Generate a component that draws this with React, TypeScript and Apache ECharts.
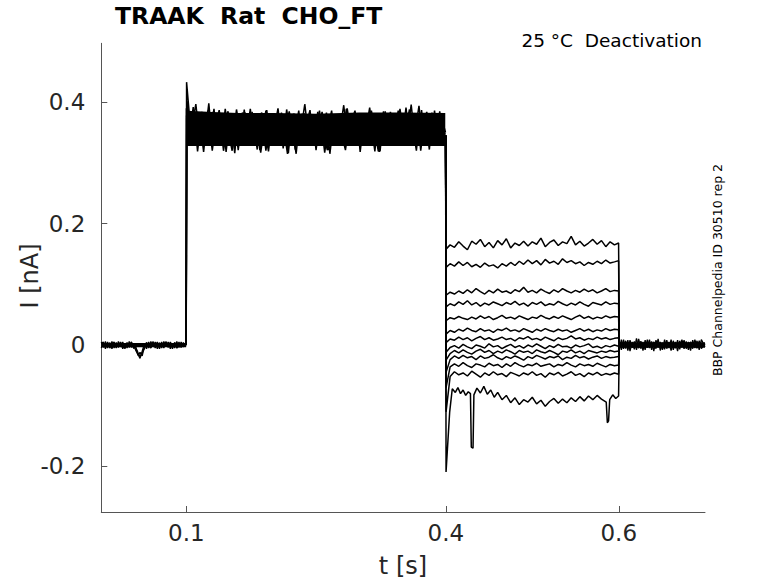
import React, { useEffect, useRef } from "react";
import * as echarts from "echarts";

// ---- axis ticks ----
const xTickValues = [0.1, 0.4, 0.6];
const yTickValues = [-0.2, 0, 0.2, 0.4];

// ---- texts ----
const titleText = "TRAAK  Rat  CHO_FT";
const subText = "25 °C  Deactivation";
const sideText = "BBP Channelpedia ID 30510 rep 2";
const xName = "t [s]";
const yName = "I [nA]";

// ---- dense cores of the overlapping sweeps (top value, floor value) ----
const tBaseEnv = [0.0017, 0.04, 0.0998];
const baseEnvTop = [0.0035, 0.0035, 0.0035];
const baseEnvFloor = -0.0035;
const tBandEnv = [0.1006, 0.13, 0.16, 0.2, 0.25, 0.3, 0.35, 0.3994];
const bandEnvTop = [0.386, 0.384, 0.382, 0.382, 0.381, 0.383, 0.383, 0.382];
const bandEnvFloor = 0.328;
const tTailEnv = [0.6008, 0.65, 0.6997];
const tailEnvTop = [0.0045, 0.0045, 0.0045];
const tailEnvFloor = -0.0045;

// ---- holding period (0 - 0.1 s) ----
const tBase = [
  0.0017, 0.004, 0.0065, 0.009, 0.0115, 0.014, 0.0165, 0.019, 0.0215, 0.024,
  0.0265, 0.029, 0.0315, 0.034, 0.0365, 0.039, 0.0415, 0.044, 0.0465, 0.049,
  0.0515, 0.054, 0.0565, 0.059, 0.0615, 0.064, 0.0665, 0.069, 0.0715, 0.074,
  0.0765, 0.079, 0.0815, 0.084, 0.0865, 0.089, 0.0915, 0.094, 0.0965, 0.0998,
];
const baseA = [
  0.005, -0.004, 0.006, -0.005, 0.004, -0.006, 0.003, -0.005, 0.006, -0.003,
  0.005, -0.006, 0.004, -0.002, 0.005, -0.005, -0.004, -0.012, -0.019, -0.013,
  -0.006, 0.004, -0.005, 0.006, -0.003, 0.005, -0.006, 0.004, -0.005, 0.006,
  -0.002, 0.005, -0.006, 0.003, -0.005, 0.006, -0.004, 0.005, -0.003, 0.002,
];
const baseB = [
  -0.005, 0.004, -0.006, 0.005, -0.003, 0.006, -0.005, 0.004, -0.004, 0.005,
  -0.006, 0.003, -0.005, 0.006, -0.004, 0.002, -0.009, -0.015, -0.022, -0.01,
  0.002, -0.006, 0.005, -0.004, 0.006, -0.005, 0.003, -0.006, 0.005, -0.003,
  0.006, -0.004, 0.003, -0.006, 0.004, -0.005, 0.005, -0.003, 0.004, -0.002,
];
const baseC = [
  0.002, 0.005, -0.004, 0.003, -0.005, 0.001, 0.005, -0.003, 0.0, 0.004,
  -0.005, 0.002, 0.003, -0.004, 0.005, -0.005, -0.003, -0.017, -0.012, -0.018,
  -0.002, 0.004, -0.001, -0.005, 0.003, 0.0, 0.005, -0.003, 0.002, -0.005,
  0.004, -0.002, 0.005, -0.001, 0.004, -0.005, 0.001, -0.004, 0.003, 0.0,
];

// ---- activation step (0.1 - 0.4 s) ----
const tBandA = [
  0.0998, 0.1003,
  0.104, 0.108, 0.112, 0.116, 0.12, 0.124, 0.128, 0.132, 0.136, 0.14,
  0.144, 0.148, 0.152, 0.156, 0.16, 0.164, 0.168, 0.172, 0.176, 0.18,
  0.184, 0.188, 0.192, 0.196, 0.2, 0.204, 0.208, 0.212, 0.216, 0.22,
  0.224, 0.228, 0.232, 0.236, 0.24, 0.244, 0.248, 0.252, 0.256, 0.26,
  0.264, 0.268, 0.272, 0.276, 0.28, 0.284, 0.288, 0.292, 0.296, 0.3,
  0.304, 0.308, 0.312, 0.316, 0.32, 0.324, 0.328, 0.332, 0.336, 0.34,
  0.344, 0.348, 0.352, 0.356, 0.36, 0.364, 0.368, 0.372, 0.376, 0.38,
  0.384, 0.388, 0.392, 0.396,
  0.3997,
];
const tBandB = [
  0.0998, 0.1005,
  0.102, 0.106, 0.11, 0.114, 0.118, 0.122, 0.126, 0.13, 0.134, 0.138,
  0.142, 0.146, 0.15, 0.154, 0.158, 0.162, 0.166, 0.17, 0.174, 0.178,
  0.182, 0.186, 0.19, 0.194, 0.198, 0.202, 0.206, 0.21, 0.214, 0.218,
  0.222, 0.226, 0.23, 0.234, 0.238, 0.242, 0.246, 0.25, 0.254, 0.258,
  0.262, 0.266, 0.27, 0.274, 0.278, 0.282, 0.286, 0.29, 0.294, 0.298,
  0.302, 0.306, 0.31, 0.314, 0.318, 0.322, 0.326, 0.33, 0.334, 0.338,
  0.342, 0.346, 0.35, 0.354, 0.358, 0.362, 0.366, 0.37, 0.374, 0.378,
  0.382, 0.386, 0.39, 0.394, 0.398,
];
const tBandC = [
  0.0998, 0.1008,
  0.105, 0.109, 0.113, 0.117, 0.121, 0.125, 0.129, 0.133, 0.137, 0.141,
  0.145, 0.149, 0.153, 0.157, 0.161, 0.165, 0.169, 0.173, 0.177, 0.181,
  0.185, 0.189, 0.193, 0.197, 0.201, 0.205, 0.209, 0.213, 0.217, 0.221,
  0.225, 0.229, 0.233, 0.237, 0.241, 0.245, 0.249, 0.253, 0.257, 0.261,
  0.265, 0.269, 0.273, 0.277, 0.281, 0.285, 0.289, 0.293, 0.297, 0.301,
  0.305, 0.309, 0.313, 0.317, 0.321, 0.325, 0.329, 0.333, 0.337, 0.341,
  0.345, 0.349, 0.353, 0.357, 0.361, 0.365, 0.369, 0.373, 0.377, 0.381,
  0.385, 0.389, 0.393, 0.397,
  0.3996,
];
const tBandD = [
  0.0998, 0.1001,
  0.103, 0.107, 0.111, 0.115, 0.119, 0.123, 0.127, 0.131, 0.135, 0.139,
  0.143, 0.147, 0.151, 0.155, 0.159, 0.163, 0.167, 0.171, 0.175, 0.179,
  0.183, 0.187, 0.191, 0.195, 0.199, 0.203, 0.207, 0.211, 0.215, 0.219,
  0.223, 0.227, 0.231, 0.235, 0.239, 0.243, 0.247, 0.251, 0.255, 0.259,
  0.263, 0.267, 0.271, 0.275, 0.279, 0.283, 0.287, 0.291, 0.295, 0.299,
  0.303, 0.307, 0.311, 0.315, 0.319, 0.323, 0.327, 0.331, 0.335, 0.339,
  0.343, 0.347, 0.351, 0.355, 0.359, 0.363, 0.367, 0.371, 0.375, 0.379,
  0.383, 0.387, 0.391, 0.395,
  0.3994,
];
const bandA1 = [
  0.0, 0.433, 0.372, 0.341, 0.384, 0.352, 0.379, 0.338, 0.368, 0.345,
  0.381, 0.334, 0.362, 0.376, 0.34, 0.371, 0.321, 0.366, 0.383, 0.347,
  0.36, 0.335, 0.374, 0.351, 0.386, 0.338, 0.364, 0.343, 0.378, 0.324,
  0.369, 0.349, 0.381, 0.337, 0.358, 0.373, 0.333, 0.366, 0.345, 0.384,
  0.34, 0.362, 0.321, 0.371, 0.352, 0.379, 0.336, 0.365, 0.347, 0.382,
  0.334, 0.369, 0.342, 0.376, 0.355, 0.331, 0.367, 0.349, 0.385, 0.339,
  0.362, 0.344, 0.378, 0.333, 0.371, 0.353, 0.396, 0.341, 0.366, 0.336,
  0.375, 0.348, 0.383, 0.339, 0.368, 0.352, 0.344,
];
const bandA2 = [
  0.0, 0.378, 0.349, 0.392, 0.336, 0.365, 0.318, 0.372, 0.354, 0.389,
  0.331, 0.357, 0.343, 0.385, 0.362, 0.316, 0.377, 0.346, 0.368, 0.33,
  0.384, 0.358, 0.339, 0.37, 0.32, 0.361, 0.38, 0.344, 0.373, 0.335,
  0.388, 0.35, 0.328, 0.367, 0.342, 0.382, 0.356, 0.33, 0.374, 0.348,
  0.365, 0.317, 0.359, 0.386, 0.337, 0.37, 0.345, 0.321, 0.363, 0.381,
  0.339, 0.372, 0.332, 0.357, 0.391, 0.346, 0.368, 0.319, 0.375, 0.342,
  0.384, 0.335, 0.36, 0.329, 0.377, 0.35, 0.337, 0.373, 0.344, 0.387,
  0.331, 0.363, 0.34, 0.379, 0.334, 0.37, 0.35,
];
const bandB1 = [
  0.0, 0.395, 0.361, 0.333, 0.377, 0.346, 0.384, 0.339, 0.37, 0.32,
  0.364, 0.387, 0.342, 0.373, 0.335, 0.358, 0.38, 0.332, 0.367, 0.349,
  0.389, 0.338, 0.371, 0.317, 0.356, 0.379, 0.344, 0.366, 0.331, 0.383,
  0.352, 0.337, 0.374, 0.322, 0.363, 0.381, 0.345, 0.369, 0.334, 0.357,
  0.386, 0.34, 0.372, 0.315, 0.364, 0.348, 0.378, 0.336, 0.39, 0.353,
  0.33, 0.368, 0.343, 0.382, 0.338, 0.361, 0.319, 0.375, 0.35, 0.385,
  0.333, 0.366, 0.342, 0.379, 0.33, 0.359, 0.388, 0.346, 0.371, 0.337,
  0.364, 0.384, 0.341, 0.376, 0.347, 0.369, 0.338,
];
const bandB2 = [
  0.0, 0.366, 0.385, 0.344, 0.358, 0.331, 0.371, 0.35, 0.398, 0.337,
  0.362, 0.347, 0.378, 0.318, 0.369, 0.341, 0.388, 0.355, 0.334, 0.375,
  0.343, 0.363, 0.322, 0.381, 0.348, 0.372, 0.336, 0.359, 0.39, 0.34,
  0.366, 0.316, 0.377, 0.353, 0.386, 0.332, 0.361, 0.345, 0.374, 0.321,
  0.367, 0.351, 0.383, 0.339, 0.376, 0.332, 0.357, 0.395, 0.344, 0.365,
  0.33, 0.379, 0.347, 0.368, 0.334, 0.386, 0.352, 0.319, 0.373, 0.34,
  0.362, 0.38, 0.335, 0.369, 0.345, 0.391, 0.338, 0.358, 0.32, 0.375,
  0.349, 0.366, 0.331, 0.381, 0.343, 0.371, 0.346,
];
const bandC1 = [
  0.0, 0.402, 0.356, 0.381, 0.319, 0.368, 0.343, 0.386, 0.334, 0.359,
  0.377, 0.339, 0.389, 0.348, 0.32, 0.372, 0.355, 0.383, 0.331, 0.366,
  0.345, 0.379, 0.321, 0.362, 0.387, 0.341, 0.369, 0.333, 0.376, 0.352,
  0.315, 0.365, 0.381, 0.338, 0.359, 0.397, 0.347, 0.372, 0.329, 0.363,
  0.384, 0.336, 0.357, 0.375, 0.332, 0.368, 0.344, 0.389, 0.337, 0.361,
  0.378, 0.318, 0.366, 0.349, 0.383, 0.335, 0.371, 0.343, 0.358, 0.329,
  0.376, 0.351, 0.386, 0.338, 0.364, 0.331, 0.373, 0.356, 0.394, 0.342,
  0.367, 0.322, 0.379, 0.346, 0.385, 0.337, 0.345,
];
const bandD1 = [
  0.0, 0.39, 0.338, 0.364, 0.397, 0.345, 0.375, 0.332, 0.361, 0.384,
  0.341, 0.37, 0.32, 0.357, 0.38, 0.336, 0.367, 0.346, 0.388, 0.33,
  0.363, 0.374, 0.339, 0.383, 0.353, 0.319, 0.368, 0.344, 0.378, 0.334,
  0.36, 0.385, 0.35, 0.315, 0.371, 0.339, 0.366, 0.387, 0.333, 0.355,
  0.372, 0.345, 0.321, 0.38, 0.361, 0.337, 0.376, 0.352, 0.33, 0.369,
  0.386, 0.341, 0.364, 0.333, 0.373, 0.348, 0.382, 0.318, 0.359, 0.377,
  0.34, 0.37, 0.331, 0.389, 0.354, 0.336, 0.367, 0.345, 0.381, 0.32,
  0.362, 0.375, 0.343, 0.386, 0.334, 0.358, 0.347,
];

// ---- deactivation steps (0.4 - 0.6 s) ----
const tDeact = [
  0.3998, 0.4003, 0.405, 0.41, 0.415, 0.42, 0.425, 0.43, 0.435, 0.44,
  0.445, 0.45, 0.455, 0.46, 0.465, 0.47, 0.475, 0.48, 0.485, 0.49,
  0.495, 0.5, 0.505, 0.51, 0.515, 0.52, 0.525, 0.53, 0.535, 0.54,
  0.545, 0.55, 0.555, 0.56, 0.565, 0.57, 0.575, 0.58, 0.585, 0.59,
  0.595, 0.5998, 0.6006,
];
const deact1 = [
  0.345, 0.158, 0.165, 0.161, 0.17, 0.163, 0.157, 0.171, 0.166, 0.174,
  0.162, 0.169, 0.16, 0.172, 0.165, 0.175, 0.16, 0.168, 0.164, 0.171,
  0.163, 0.17, 0.166, 0.176, 0.162, 0.169, 0.173, 0.164, 0.17, 0.167,
  0.179, 0.165, 0.171, 0.163, 0.168, 0.174, 0.166, 0.172, 0.162, 0.17,
  0.165, 0.168, 0.003,
];
const deact2 = [
  0.345, 0.128, 0.134, 0.13, 0.137, 0.131, 0.136, 0.129, 0.133, 0.128,
  0.135, 0.13, 0.132, 0.127, 0.134, 0.13, 0.136, 0.131, 0.138, 0.133,
  0.14, 0.134, 0.139, 0.132, 0.141, 0.135, 0.138, 0.133, 0.142, 0.136,
  0.139, 0.134, 0.137, 0.131, 0.136, 0.133, 0.138, 0.134, 0.14, 0.135,
  0.137, 0.139, 0.002,
];
const deact3 = [
  0.345, 0.082, 0.087, 0.084, 0.089, 0.085, 0.091, 0.086, 0.093, 0.088,
  0.084, 0.09, 0.086, 0.092, 0.087, 0.089, 0.085, 0.091, 0.088, 0.095,
  0.087, 0.09, 0.086, 0.092, 0.088, 0.085, 0.091, 0.087, 0.093, 0.089,
  0.086, 0.09, 0.087, 0.092, 0.088, 0.091, 0.086, 0.089, 0.093, 0.088,
  0.09, 0.089, 0.001,
];
const deact4 = [
  0.345, 0.063, 0.068, 0.065, 0.071, 0.067, 0.073, 0.066, 0.07, 0.064,
  0.069, 0.066, 0.071, 0.068, 0.065, 0.07, 0.067, 0.072, 0.066, 0.069,
  0.064, 0.07, 0.067, 0.071, 0.065, 0.068, 0.066, 0.072, 0.068, 0.065,
  0.069, 0.066, 0.071, 0.067, 0.064, 0.07, 0.068, 0.066, 0.071, 0.067,
  0.069, 0.068, 0.001,
];
const deact5 = [
  0.345, 0.04, 0.045, 0.043, 0.047, 0.044, 0.042, 0.046, 0.043, 0.048,
  0.044, 0.047, 0.042, 0.045, 0.049, 0.044, 0.046, 0.043, 0.048, 0.045,
  0.042, 0.046, 0.044, 0.049, 0.045, 0.043, 0.047, 0.044, 0.048, 0.045,
  0.042, 0.046, 0.049, 0.044, 0.047, 0.043, 0.046, 0.044, 0.048, 0.045,
  0.047, 0.046, 0.0,
];
const deact6 = [
  0.345, 0.018, 0.024, 0.021, 0.026, 0.023, 0.028, 0.024, 0.022, 0.027,
  0.023, 0.025, 0.021, 0.026, 0.024, 0.028, 0.023, 0.025, 0.022, 0.027,
  0.024, 0.021, 0.026, 0.023, 0.027, 0.024, 0.022, 0.026, 0.023, 0.025,
  0.021, 0.024, 0.027, 0.023, 0.026, 0.022, 0.025, 0.023, 0.027, 0.024,
  0.026, 0.025, 0.0,
];
const deact7 = [
  0.345, 0.004, 0.01, 0.008, 0.013, 0.009, 0.012, 0.007, 0.011, 0.014,
  0.009, 0.012, 0.008, 0.01, 0.013, 0.009, 0.011, 0.007, 0.012, 0.01,
  0.014, 0.009, 0.011, 0.008, 0.013, 0.01, 0.007, 0.012, 0.009, 0.011,
  0.015, 0.01, 0.012, 0.008, 0.011, 0.009, 0.013, 0.01, 0.012, 0.009,
  0.011, 0.012, -0.001,
];
const deact8 = [
  0.345, -0.012, -0.004, -0.001, -0.005, 0.001, -0.003, -0.006, 0.0, -0.002,
  -0.005, 0.002, -0.003, -0.001, -0.006, -0.002, 0.001, -0.004, -0.001, -0.005,
  0.0, -0.003, 0.002, -0.002, -0.006, -0.001, -0.004, 0.001, -0.003, -0.002,
  -0.005, 0.0, -0.003, -0.001, 0.002, -0.004, -0.002, -0.005, -0.001, -0.003,
  0.0, -0.002, 0.0,
];
const deact9 = [
  0.345, -0.025, -0.014, -0.009, -0.013, -0.008, -0.012, -0.015, -0.01, -0.007,
  -0.012, -0.009, -0.014, -0.01, -0.013, -0.008, -0.011, -0.015, -0.009, -0.012,
  -0.01, -0.014, -0.008, -0.011, -0.013, -0.009, -0.012, -0.016, -0.01, -0.012,
  -0.008, -0.013, -0.01, -0.014, -0.009, -0.011, -0.013, -0.01, -0.012, -0.009,
  -0.011, -0.01, 0.001,
];
const deact10 = [
  0.345, -0.045, -0.024, -0.018, -0.022, -0.017, -0.021, -0.019, -0.024, -0.018,
  -0.022, -0.02, -0.016, -0.021, -0.024, -0.019, -0.022, -0.018, -0.021, -0.025,
  -0.019, -0.022, -0.017, -0.02, -0.023, -0.019, -0.021, -0.018, -0.024, -0.02,
  -0.022, -0.017, -0.021, -0.019, -0.023, -0.02, -0.018, -0.022, -0.019, -0.021,
  -0.02, -0.019, 0.001,
];
const deact11 = [
  0.345, -0.07, -0.036, -0.031, -0.035, -0.029, -0.034, -0.037, -0.031, -0.033,
  -0.036, -0.03, -0.034, -0.032, -0.037, -0.031, -0.035, -0.029, -0.033, -0.036,
  -0.032, -0.034, -0.03, -0.035, -0.033, -0.031, -0.036, -0.032, -0.034, -0.029,
  -0.033, -0.036, -0.031, -0.034, -0.032, -0.035, -0.03, -0.033, -0.036, -0.032,
  -0.034, -0.033, 0.0,
];
const deact12 = [
  0.345, -0.11, -0.052, -0.044, -0.049, -0.046, -0.051, -0.043, -0.048, -0.053,
  -0.046, -0.05, -0.044, -0.049, -0.047, -0.052, -0.045, -0.048, -0.051, -0.046,
  -0.049, -0.044, -0.05, -0.047, -0.053, -0.046, -0.049, -0.045, -0.051, -0.048,
  -0.044, -0.05, -0.047, -0.052, -0.046, -0.049, -0.045, -0.05, -0.047, -0.049,
  -0.046, -0.048, -0.001,
];
const tLow = [
  0.3998, 0.4003, 0.4045, 0.4075, 0.411, 0.414, 0.417, 0.42, 0.423, 0.426,
  0.4285, 0.4295, 0.4315, 0.4325, 0.436, 0.44, 0.444, 0.448, 0.452, 0.456,
  0.46, 0.465, 0.47, 0.475, 0.48, 0.485, 0.49, 0.495, 0.5, 0.505,
  0.51, 0.515, 0.52, 0.525, 0.53, 0.535, 0.54, 0.545, 0.55, 0.555,
  0.56, 0.565, 0.57, 0.575, 0.58, 0.5855, 0.5868, 0.5882, 0.5895, 0.593,
  0.5965, 0.5998, 0.6006,
];
const deact13 = [
  0.345, -0.209, -0.11, -0.072, -0.078, -0.07, -0.08, -0.074, -0.083, -0.077,
  -0.08, -0.168, -0.17, -0.082, -0.071, -0.079, -0.068, -0.081, -0.074, -0.086,
  -0.078, -0.09, -0.083, -0.095, -0.087, -0.098, -0.09, -0.094, -0.086, -0.097,
  -0.091, -0.101, -0.093, -0.088, -0.096, -0.089, -0.095, -0.087, -0.093, -0.085,
  -0.092, -0.084, -0.09, -0.083, -0.089, -0.094, -0.128, -0.125, -0.09, -0.082,
  -0.088, -0.084, 0.0,
];

// ---- return to holding (0.6 - 0.7 s) ----
const tTail = [
  0.6006, 0.603, 0.6055, 0.608, 0.6105, 0.613, 0.6155, 0.618, 0.6205, 0.623,
  0.6255, 0.628, 0.6305, 0.633, 0.6355, 0.638, 0.6405, 0.643, 0.6455, 0.648,
  0.6505, 0.653, 0.6555, 0.658, 0.6605, 0.663, 0.6655, 0.668, 0.6705, 0.673,
  0.6755, 0.678, 0.6805, 0.683, 0.6855, 0.688, 0.6905, 0.693, 0.6955, 0.6997,
];
const tailA = [
  0.007, -0.008, 0.009, -0.006, 0.008, -0.01, 0.005, -0.007, 0.011, -0.005,
  0.006, -0.009, 0.008, -0.004, 0.009, -0.008, 0.005, -0.006, 0.01, -0.009,
  0.004, -0.007, 0.008, -0.005, 0.009, -0.008, 0.005, -0.01, 0.007, -0.004,
  0.008, -0.006, 0.005, -0.009, 0.008, -0.005, 0.007, -0.008, 0.009, -0.003,
];
const tailB = [
  -0.008, 0.009, -0.005, 0.007, -0.009, 0.008, -0.004, 0.006, -0.008, 0.01,
  -0.006, 0.005, -0.008, 0.009, -0.005, 0.006, -0.01, 0.008, -0.004, 0.005,
  -0.008, 0.009, -0.006, 0.004, -0.009, 0.007, -0.005, 0.008, -0.007, 0.009,
  -0.004, 0.006, -0.008, 0.005, -0.006, 0.009, -0.005, 0.007, -0.006, 0.002,
];
const tailC = [
  0.001, 0.003, -0.006, 0.005, -0.001, 0.002, -0.004, 0.001, 0.003, -0.005,
  0.006, -0.002, 0.001, -0.004, 0.002, -0.001, 0.005, -0.003, 0.0, 0.004,
  -0.006, 0.002, -0.001, 0.005, -0.003, 0.001, -0.005, 0.003, -0.002, 0.004,
  -0.006, 0.002, -0.001, 0.005, -0.003, 0.0, -0.005, 0.002, -0.001, 0.003,
];

const FONT = "DejaVu Sans";

function pairs(t: number[], v: number[]) {
  const n = Math.min(t.length, v.length);
  const out: number[][] = [];
  for (let i = 0; i < n; i++) out.push([t[i], v[i]]);
  return out;
}

const traces: [number[], number[], number][] = [
  [tBase, baseA, 1.3],
  [tBase, baseB, 1.3],
  [tBase, baseC, 1.3],
  [tBandA, bandA1, 1.5],
  [tBandA, bandA2, 1.5],
  [tBandB, bandB1, 1.5],
  [tBandB, bandB2, 1.5],
  [tBandC, bandC1, 1.5],
  [tBandD, bandD1, 1.5],
  [tDeact, deact1, 1.5],
  [tDeact, deact2, 1.5],
  [tDeact, deact3, 1.5],
  [tDeact, deact4, 1.5],
  [tDeact, deact5, 1.5],
  [tDeact, deact6, 1.5],
  [tDeact, deact7, 1.5],
  [tDeact, deact8, 1.5],
  [tDeact, deact9, 1.5],
  [tDeact, deact10, 1.5],
  [tDeact, deact11, 1.5],
  [tDeact, deact12, 1.5],
  [tLow, deact13, 1.5],
  [tTail, tailA, 1.3],
  [tTail, tailB, 1.3],
  [tTail, tailC, 1.3],
];

const envelopes: [number[], number[], number][] = [
  [tBaseEnv, baseEnvTop, baseEnvFloor],
  [tBandEnv, bandEnvTop, bandEnvFloor],
  [tTailEnv, tailEnvTop, tailEnvFloor],
];

export default function App() {
  const ref = useRef<HTMLDivElement>(null);
  useEffect(() => {
    if (!ref.current) return;
    const chart = echarts.init(ref.current, null, { renderer: "svg" });
    const axisColor = "#555555";
    const labelColor = "#262626";
    const envSeries = envelopes.map(([t, v, floor]) => ({
      type: "line",
      data: pairs(t, v),
      showSymbol: false,
      symbol: "none",
      silent: true,
      animation: false,
      lineStyle: { width: 0, color: "#000000" },
      areaStyle: { color: "#000000", opacity: 1, origin: floor },
    }));
    const traceSeries = traces.map(([t, v, w]) => ({
      type: "line",
      data: pairs(t, v),
      showSymbol: false,
      symbol: "none",
      silent: true,
      animation: false,
      lineStyle: { color: "#000000", width: w },
    }));
    chart.setOption({
      animation: false,
      backgroundColor: "#ffffff",
      grid: {
        left: 101.3,
        right: 73,
        top: 43.3,
        bottom: 71,
        containLabel: false,
        outerBoundsMode: "none",
      },
      xAxis: {
        type: "value",
        min: 0.0017,
        max: 0.6997,
        axisLine: { show: true, onZero: false, lineStyle: { color: axisColor, width: 1 } },
        axisTick: {
          show: true,
          inside: true,
          length: 6,
          customValues: xTickValues,
          lineStyle: { color: axisColor, width: 1 },
        },
        axisLabel: {
          show: true,
          customValues: xTickValues,
          margin: 9,
          color: labelColor,
          fontFamily: FONT,
          fontSize: 23,
          formatter: (v: number) => String(v),
        },
        splitLine: { show: false },
      },
      yAxis: {
        type: "value",
        min: -0.275,
        max: 0.497,
        axisLine: { show: true, onZero: false, lineStyle: { color: axisColor, width: 1 } },
        axisTick: {
          show: true,
          inside: true,
          length: 6,
          customValues: yTickValues,
          lineStyle: { color: axisColor, width: 1 },
        },
        axisLabel: {
          show: true,
          customValues: yTickValues,
          margin: 16,
          color: labelColor,
          fontFamily: FONT,
          fontSize: 23,
          formatter: (v: number) => String(v),
        },
        splitLine: { show: false },
      },
      graphic: [
        {
          type: "text",
          left: 115,
          top: 4,
          style: {
            text: titleText,
            fill: "#000000",
            font: `bold 23.5px "${FONT}"`,
          },
        },
        {
          type: "text",
          x: 702,
          y: 40,
          style: {
            text: subText,
            fill: "#000000",
            font: `18.5px "${FONT}"`,
            align: "right",
            verticalAlign: "middle",
          },
        },
        {
          type: "text",
          x: 717,
          y: 270,
          rotation: Math.PI / 2,
          style: {
            text: sideText,
            fill: "#000000",
            font: `12.5px "${FONT}"`,
            align: "center",
            verticalAlign: "middle",
          },
        },
        {
          type: "text",
          x: 403,
          y: 566,
          style: {
            text: xName,
            fill: labelColor,
            font: `24px "${FONT}"`,
            align: "center",
            verticalAlign: "middle",
          },
        },
        {
          type: "text",
          x: 30,
          y: 276,
          rotation: Math.PI / 2,
          style: {
            text: yName,
            fill: labelColor,
            font: `24px "${FONT}"`,
            align: "center",
            verticalAlign: "middle",
          },
        },
      ],
      series: [...envSeries, ...traceSeries],
    });
    return () => chart.dispose();
  }, []);
  return (
    <div
      ref={ref}
      style={{ position: "absolute", left: 0, top: 0, width: 778, height: 583 }}
    />
  );
}
